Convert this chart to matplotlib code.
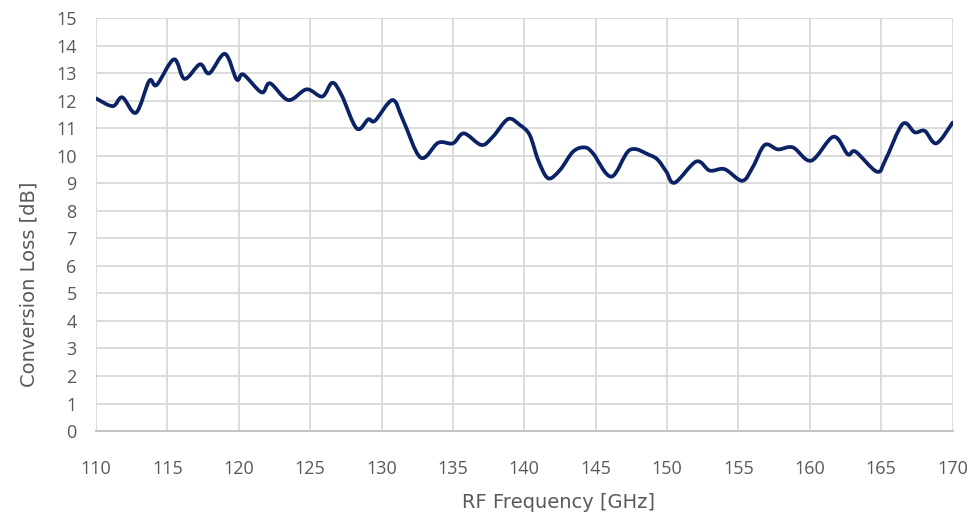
import matplotlib
matplotlib.use("Agg")
import matplotlib.pyplot as plt
import numpy as np
from matplotlib.path import Path
from matplotlib.patches import PathPatch

# Measured conversion loss vs RF frequency
freq_ghz = [110.0, 111.17, 111.84, 112.8, 113.73, 114.25, 115.46, 116.2, 117.28, 117.93,
            119.03, 119.85, 120.32, 121.6, 122.19, 123.47, 124.75, 125.85, 126.55, 127.2,
            128.26, 129.07, 129.54, 130.77, 131.5, 132.74, 133.97, 135.0, 135.77, 137.0,
            137.8, 138.86, 139.68, 140.38, 140.97, 141.67, 142.5, 143.42, 144.24, 144.82,
            146.1, 147.39, 148.79, 149.37, 149.95, 150.54, 152.05, 152.99, 154.03, 155.27,
            156.02, 156.84, 157.77, 158.82, 160.1, 161.66, 162.66, 163.2, 164.7, 165.3,
            166.5, 167.35, 168.05, 168.87, 170.0]
conv_loss_db = [12.08, 11.8, 12.12, 11.56, 12.72, 12.57, 13.5, 12.79, 13.32, 12.99,
                13.7, 12.77, 12.95, 12.3, 12.63, 12.02, 12.41, 12.15, 12.65, 12.2,
                10.99, 11.32, 11.27, 12.02, 11.3, 9.93, 10.47, 10.45, 10.81, 10.39,
                10.69, 11.33, 11.12, 10.75, 9.84, 9.18, 9.48, 10.15, 10.3, 10.08,
                9.24, 10.21, 10.02, 9.84, 9.42, 9.02, 9.79, 9.46, 9.51, 9.09,
                9.6, 10.39, 10.23, 10.3, 9.82, 10.69, 10.05, 10.15, 9.42, 9.85,
                11.15, 10.85, 10.9, 10.45, 11.2]

x_ticks = list(range(110, 171, 5))
y_ticks = list(range(0, 16))

TEXT = "#595959"
GRID = "#d9d9d9"
LINE = "#0b2265"

plt.rcParams["font.family"] = ["Open Sans", "DejaVu Sans"]

fig = plt.figure(figsize=(9.74, 5.15), dpi=100)
ax = fig.add_axes([0.0986, 0.163, 0.8794, 0.802])
ax.set_xlim(110, 170)
ax.set_ylim(0, 15)

# Smoothed line: Catmull-Rom segments rendered as cubic Bezier curves
x = np.asarray(freq_ghz)
y = np.asarray(conv_loss_db)
verts = [(x[0], y[0])]
codes = [Path.MOVETO]
n = len(x)
for i in range(n - 1):
    p0 = (x[i - 1], y[i - 1]) if i > 0 else (x[i], y[i])
    p1 = (x[i], y[i])
    p2 = (x[i + 1], y[i + 1])
    p3 = (x[i + 2], y[i + 2]) if i + 2 < n else (x[i + 1], y[i + 1])
    c1 = (p1[0] + (p2[0] - p0[0]) / 6, p1[1] + (p2[1] - p0[1]) / 6)
    c2 = (p2[0] - (p3[0] - p1[0]) / 6, p2[1] - (p3[1] - p1[1]) / 6)
    verts += [c1, c2, p2]
    codes += [Path.CURVE4] * 3
ax.add_patch(PathPatch(Path(verts, codes), facecolor="none", edgecolor=LINE,
                       lw=2.7, capstyle="round", joinstyle="round", zorder=3))

ax.set_xticks(x_ticks)
ax.set_yticks(y_ticks)
ax.grid(True, color=GRID, lw=1.3)
ax.set_axisbelow(True)
for s in ["top", "right", "left"]:
    ax.spines[s].set_visible(False)
ax.spines["bottom"].set_color("#bfbfbf")
ax.spines["bottom"].set_linewidth(1.3)
ax.tick_params(axis="both", length=0, labelsize=13, labelcolor=TEXT)
ax.tick_params(axis="x", pad=21)
ax.tick_params(axis="y", pad=14)

# Axis titles, placed relative to the plot area
ax.text(0.54, -0.172, "RF Frequency [GHz]", transform=ax.transAxes,
        ha="center", va="center", fontsize=14, color=TEXT, family="DejaVu Sans")
ax.text(-0.078, 0.355, "Conversion Loss [dB]", transform=ax.transAxes,
        ha="center", va="center", rotation=90, fontsize=14, color=TEXT,
        family="DejaVu Sans")

fig.savefig("out.png", dpi=100)
